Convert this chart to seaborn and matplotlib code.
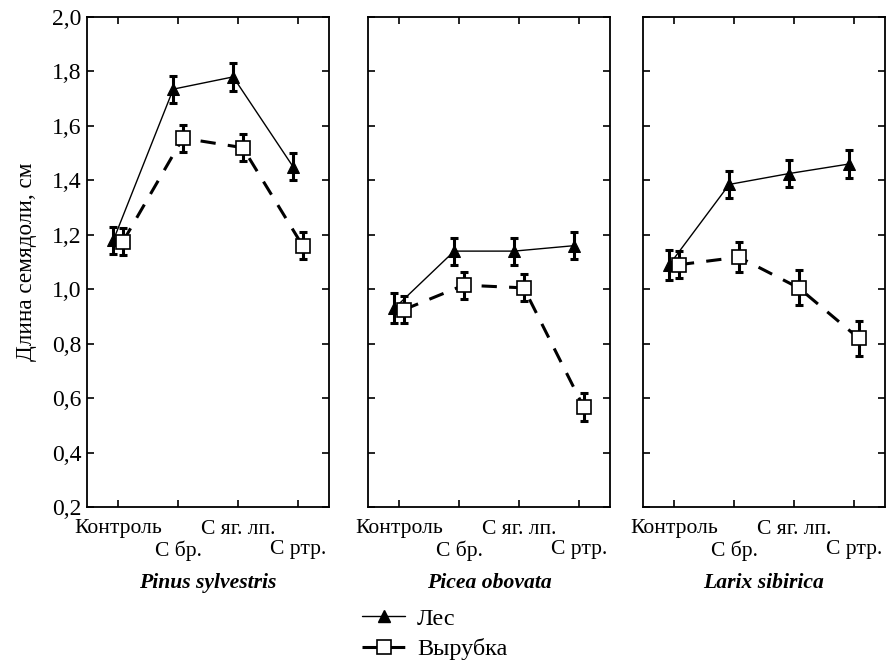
import matplotlib
matplotlib.use("Agg")
import matplotlib.pyplot as plt
from matplotlib.lines import Line2D
import numpy as np
import pandas as pd
import seaborn as sns

SPECIES = ["Pinus sylvestris", "Picea obovata", "Larix sibirica"]
CATEGORIES = ["Контроль", "С бр.", "С яг. лп.", "С ртр."]

forest_mean = [
    [1.18, 1.735, 1.78, 1.45],
    [0.93, 1.14, 1.14, 1.16],
    [1.09, 1.385, 1.425, 1.46],
]
forest_err = [
    [0.05, 0.05, 0.05, 0.05],
    [0.055, 0.05, 0.05, 0.05],
    [0.055, 0.05, 0.05, 0.05],
]
cut_mean = [
    [1.175, 1.555, 1.52, 1.16],
    [0.925, 1.015, 1.005, 0.567],
    [1.09, 1.118, 1.005, 0.82],
]
cut_err = [
    [0.05, 0.05, 0.05, 0.05],
    [0.05, 0.05, 0.05, 0.05],
    [0.05, 0.055, 0.064, 0.064],
]

Y_TICKS = [0.2, 0.4, 0.6, 0.8, 1.0, 1.2, 1.4, 1.6, 1.8, 2.0]

sns.set_style("ticks")
plt.rcParams["font.family"] = ["Liberation Serif", "DejaVu Serif"]
plt.rcParams["font.size"] = 15
plt.rcParams["text.color"] = "black"
plt.rcParams["axes.labelcolor"] = "black"
plt.rcParams["xtick.color"] = "black"
plt.rcParams["ytick.color"] = "black"
plt.rcParams["axes.edgecolor"] = "black"

fig = plt.figure(figsize=(8.89, 6.64), dpi=100)
lefts = [87, 368, 643]
width = 242

tick_labels = [c if i % 2 == 0 else "\n" + c for i, c in enumerate(CATEGORIES)]
x = np.arange(len(CATEGORIES))
off = 0.08
dash = (0, (5, 4))

for k, sp in enumerate(SPECIES):
    ax = fig.add_axes([lefts[k] / 889, (664 - 507) / 664, width / 889, 490 / 664])
    df = pd.DataFrame({
        "x": np.concatenate([x - off, x + off]),
        "y": forest_mean[k] + cut_mean[k],
        "err": forest_err[k] + cut_err[k],
        "group": ["Лес"] * 4 + ["Вырубка"] * 4,
    })
    f = df[df.group == "Лес"]
    c = df[df.group == "Вырубка"]

    for part in (f, c):
        ax.errorbar(part.x, part.y, yerr=part.err, fmt="none", ecolor="black",
                    elinewidth=2.2, capsize=3, capthick=2.2, zorder=2)
    sns.lineplot(data=f, x="x", y="y", ax=ax, color="black", linewidth=1.0,
                 marker="^", markersize=9, markerfacecolor="black",
                 markeredgecolor="black", zorder=3)
    sns.lineplot(data=c, x="x", y="y", ax=ax, color="black", linewidth=2.2,
                 linestyle=dash, marker="s", markersize=10,
                 markerfacecolor="white", markeredgecolor="black",
                 markeredgewidth=1.2, zorder=4)

    ax.set_xlim(-0.52, 3.52)
    ax.set_ylim(0.2, 2.0)
    ax.set_xticks(x)
    ax.set_xticklabels(tick_labels, linespacing=1.1, fontsize=15.6)
    ax.set_yticks(Y_TICKS)
    ax.tick_params(direction="in", top=True, right=True, length=5, width=1.2)
    ax.tick_params(axis="x", pad=9)
    ax.tick_params(axis="y", labelsize=17, pad=4)
    for s in ax.spines.values():
        s.set_linewidth(1.3)
    if k == 0:
        ax.set_yticklabels([f"{v:.1f}".replace(".", ",") for v in Y_TICKS])
        ax.set_ylabel("Длина семядоли, см", fontsize=16.7, labelpad=11)
    else:
        ax.set_yticklabels([])
        ax.set_ylabel("")
    ax.set_xlabel("")
    ax.text(0.5, -0.155, sp, transform=ax.transAxes, ha="center", va="center",
            fontsize=15.6, fontweight="bold", fontstyle="italic")

handles = [
    Line2D([], [], color="black", linewidth=1.0, marker="^", markersize=9,
           markerfacecolor="black"),
    Line2D([], [], color="black", linewidth=2.2, linestyle=dash,
           marker="s", markersize=10, markerfacecolor="white",
           markeredgecolor="black", markeredgewidth=1.2),
]
fig.legend(handles, ["Лес", "Вырубка"], loc="center left",
           bbox_to_anchor=(362 / 889, 1 - 634 / 664), frameon=False,
           fontsize=17.5, handlelength=1.77, labelspacing=0.35,
           handletextpad=0.5, borderpad=0, borderaxespad=0)

fig.savefig("out.png", dpi=100)
